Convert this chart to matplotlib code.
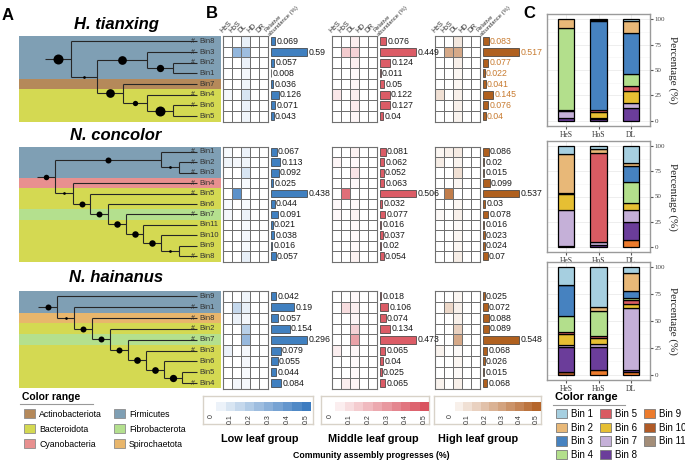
import numpy as np
import matplotlib
matplotlib.use("Agg")
import matplotlib.pyplot as plt
from matplotlib.colors import LinearSegmentedColormap
from matplotlib.patches import Patch
from matplotlib.lines import Line2D

W, H = 685, 467
plt.rcParams['font.family'] = ['Liberation Sans', 'DejaVu Sans']
SERIF = ['Liberation Serif', 'DejaVu Serif']

# ---------------- data ----------------
heat_cols = ["HeS", "HoS", "DL", "HD", "DR"]
groups = ["Low leaf group", "Middle leaf group", "High leaf group"]
hosts = ["H. tianxing", "N. concolor", "N. hainanus"]
stack_cols = ["HeS", "HoS", "DL"]

phylum_colors = {
    "Actinobacteriota": "#b5895a",
    "Bacteroidota": "#d4d952",
    "Cyanobacteria": "#e8908f",
    "Firmicutes": "#7f9fb4",
    "Fibrobacterota": "#b4e08e",
    "Spirochaetota": "#e8b66c",
}
bin_names = ["Bin 1", "Bin 2", "Bin 3", "Bin 4", "Bin 5", "Bin 6",
             "Bin 7", "Bin 8", "Bin 9", "Bin 10", "Bin 11"]
bin_colors = ["#a6cfe0", "#e8b878", "#4682c0", "#b3df8c", "#d95b62", "#e6bf33",
              "#c5b0d8", "#6b3d9a", "#ec7b2c", "#b05a26", "#a38d78"]

# H. tianxing
tianxing_bins = ["Bin8", "Bin3", "Bin2", "Bin1", "Bin7", "Bin4", "Bin6", "Bin5"]
tianxing_phyla = ["Firmicutes"] * 4 + ["Actinobacteriota"] + ["Bacteroidota"] * 3
tianxing_marked = [1, 1, 1, 0, 0, 1, 1, 0]
# node = (depth, support dot size px, children)
tianxing_tree = (71, 10, ["Bin8",
                          (97, 2.7, [(147, 8.7, ["Bin3", (173, 7.3, ["Bin2", "Bin1"])]),
                                     (123, 8.7, ["Bin7", (147, 5.3, ["Bin4", (173, 10, ["Bin6", "Bin5"])])])])])
tianxing_root = 45
tianxing_low = [0.069, 0.59, 0.057, 0.008, 0.036, 0.126, 0.071, 0.043]
tianxing_mid = [0.076, 0.449, 0.124, 0.011, 0.05, 0.122, 0.127, 0.04]
tianxing_high = [0.083, 0.517, 0.077, 0.022, 0.041, 0.145, 0.076, 0.04]
tianxing_heat_low = [[0, 0, 0.06, 0, 0], [0, 0.28, 0.25, 0, 0], [0, 0, 0.05, 0, 0], [0, 0, 0.03, 0, 0],
                     [0, 0, 0.04, 0, 0], [0.03, 0, 0.10, 0, 0], [0, 0, 0.05, 0, 0], [0, 0, 0.04, 0, 0]]
tianxing_heat_mid = [[0, 0, 0.05, 0, 0], [0, 0.15, 0.13, 0, 0], [0, 0, 0.05, 0, 0], [0, 0, 0.02, 0, 0],
                     [0, 0, 0.03, 0, 0], [0.07, 0, 0.05, 0, 0], [0, 0, 0.06, 0, 0], [0, 0, 0.03, 0, 0]]
tianxing_heat_high = [[0, 0, 0.08, 0, 0], [0, 0.28, 0.28, 0, 0], [0, 0, 0.05, 0, 0], [0, 0, 0.03, 0, 0],
                      [0, 0, 0.03, 0, 0], [0.1, 0, 0.05, 0, 0], [0, 0, 0.05, 0, 0], [0, 0, 0.04, 0, 0]]
# stacked percentages per Bin 1..11 for HeS, HoS, DL
tianxing_stack = [[0, 0.5, 2.3], [9, 1, 11.7], [0, 87.5, 40.3], [80, 0, 11.4], [0, 2.5, 5],
                  [1, 6, 11.6], [7, 1, 5], [3, 1.5, 12.7], [0, 0, 0], [0, 0, 0], [0, 0, 0]]

# N. concolor
concolor_bins = ["Bin1", "Bin2", "Bin3", "Bin4", "Bin5", "Bin6", "Bin7", "Bin11", "Bin10", "Bin9", "Bin8"]
concolor_phyla = ["Firmicutes"] * 3 + ["Cyanobacteria"] + ["Bacteroidota"] * 2 + ["Fibrobacterota"] + ["Bacteroidota"] * 4
concolor_marked = [1, 1, 1, 1, 1, 0, 1, 0, 0, 0, 1]
concolor_tree = (55, 5.5, [(161, 6, ["Bin1", (179, 2.7, ["Bin2", "Bin3"])]),
                           (73, 2.7, ["Bin4", (90, 6, ["Bin5", (108, 6, ["Bin6", (126, 6.5, ["Bin7",
                            (143, 6.5, ["Bin11", (161, 6.5, ["Bin10", (179, 2.7, ["Bin9", "Bin8"])])])])])])])])
concolor_root = 37
concolor_low = [0.067, 0.113, 0.092, 0.025, 0.438, 0.044, 0.091, 0.021, 0.038, 0.016, 0.057]
concolor_mid = [0.081, 0.062, 0.052, 0.063, 0.506, 0.032, 0.077, 0.016, 0.037, 0.02, 0.054]
concolor_high = [0.086, 0.02, 0.015, 0.099, 0.537, 0.03, 0.078, 0.016, 0.023, 0.024, 0.07]
concolor_heat_low = [[0.02, 0, 0.05, 0, 0], [0.04, 0.03, 0.04, 0, 0], [0, 0, 0.1, 0, 0], [0, 0, 0.02, 0, 0],
                     [0, 0.42, 0, 0, 0], [0.02, 0, 0.02, 0, 0], [0.03, 0, 0.05, 0, 0], [0, 0, 0.02, 0, 0],
                     [0, 0, 0.03, 0, 0], [0, 0, 0.02, 0, 0], [0, 0, 0.06, 0, 0]]
concolor_heat_mid = [[0, 0, 0.04, 0, 0], [0.03, 0, 0.02, 0, 0], [0, 0, 0.08, 0, 0], [0, 0, 0.02, 0, 0],
                     [0, 0.42, 0, 0, 0], [0.02, 0, 0.02, 0, 0], [0.02, 0, 0.04, 0, 0], [0, 0, 0.02, 0, 0],
                     [0, 0, 0.02, 0, 0], [0, 0, 0.02, 0, 0], [0, 0, 0.04, 0, 0]]
concolor_heat_high = [[0.03, 0.05, 0.07, 0, 0], [0.06, 0, 0.04, 0, 0], [0, 0, 0.1, 0, 0], [0, 0, 0.03, 0, 0],
                      [0, 0.42, 0, 0, 0], [0, 0, 0.03, 0, 0], [0.02, 0, 0.05, 0, 0], [0, 0, 0.02, 0, 0],
                      [0, 0, 0.03, 0, 0], [0, 0, 0.03, 0, 0], [0, 0, 0.06, 0, 0]]
concolor_stack = [[8, 3, 16.5], [39, 4, 3.5], [1, 0, 16], [0, 0, 20], [0, 88, 0], [15, 0, 7],
                  [36, 3, 12], [1, 2, 18.5], [0, 0, 6.5], [0, 0, 0], [0, 0, 0]]

# N. hainanus
hainanus_bins = ["Bin9", "Bin1", "Bin8", "Bin2", "Bin7", "Bin3", "Bin6", "Bin5", "Bin4"]
hainanus_phyla = ["Firmicutes"] * 2 + ["Spirochaetota", "Bacteroidota", "Fibrobacterota"] + ["Bacteroidota"] * 4
hainanus_marked = [0, 1, 1, 1, 1, 1, 0, 0, 1]
hainanus_tree = (57, 6, ["Bin9", (74, 2.7, ["Bin1", (92, 6, ["Bin8", (110, 6, ["Bin2", (128, 6, ["Bin7",
                 (146, 6.7, ["Bin3", (164, 6.7, ["Bin6", (182, 7.3, ["Bin5", "Bin4"])])])])])])])])
hainanus_root = 38
hainanus_low = [0.042, 0.19, 0.057, 0.154, 0.296, 0.079, 0.055, 0.044, 0.084]
hainanus_mid = [0.018, 0.106, 0.074, 0.134, 0.473, 0.065, 0.04, 0.025, 0.065]
hainanus_high = [0.025, 0.072, 0.088, 0.089, 0.548, 0.068, 0.026, 0.015, 0.068]
hainanus_heat_low = [[0, 0, 0.04, 0, 0], [0, 0.15, 0.06, 0, 0], [0, 0.05, 0.03, 0, 0], [0, 0, 0.18, 0, 0],
                     [0, 0, 0.27, 0, 0], [0.05, 0, 0.03, 0, 0], [0, 0, 0.03, 0, 0], [0, 0, 0.02, 0, 0],
                     [0, 0.03, 0.03, 0, 0]]
hainanus_heat_mid = [[0, 0, 0.02, 0, 0], [0, 0.1, 0.05, 0, 0], [0, 0, 0.03, 0, 0], [0, 0, 0.13, 0, 0],
                     [0, 0, 0.27, 0, 0], [0.05, 0, 0.03, 0, 0], [0, 0, 0.02, 0, 0], [0, 0, 0.02, 0, 0],
                     [0, 0.05, 0.03, 0, 0]]
hainanus_heat_high = [[0, 0, 0.03, 0, 0], [0, 0.13, 0.05, 0, 0], [0, 0, 0.05, 0, 0], [0, 0, 0.15, 0, 0],
                      [0, 0, 0.28, 0, 0], [0.04, 0, 0.02, 0, 0], [0, 0, 0.03, 0, 0], [0, 0, 0.02, 0, 0],
                      [0.04, 0, 0.05, 0, 0]]
hainanus_stack = [[16, 37.3, 5], [0.5, 3.4, 16.7], [28.5, 0, 6.6], [15.5, 23.3, 2.4], [1.5, 2, 3.3],
                  [10, 5.7, 4.3], [2.5, 2.3, 57.7], [23.5, 22, 1.3], [0, 4, 2.7], [2, 0, 0], [0, 0, 0]]

cbar_ticks = [0, 0.1, 0.2, 0.3, 0.4, 0.5]

# ---------------- styling ----------------
group_colors = ["#3d7cc0", "#d9535f", "#b5652a"]
bar_colors = ["#4080c0", "#dc5c66", "#b0601e"]
cmaps = [LinearSegmentedColormap.from_list("g%d" % i, ["#ffffff", c]) for i, c in enumerate(group_colors)]

fig = plt.figure(figsize=(W / 100, H / 100), dpi=100)


def px_axes(x0, y0, x1, y1):
    return fig.add_axes([x0 / W, 1 - y1 / H, (x1 - x0) / W, (y1 - y0) / H])


def ftext(x, y, s, **kw):
    fig.text(x / W, 1 - y / H, s, **kw)


TIP_X = 197


def layout(node, parent_x, leaf_y, lines, dots):
    if isinstance(node, str):
        y = leaf_y[node]
        lines.append(([parent_x, TIP_X], [y, y]))
        return y
    x, size, children = node
    ys = [layout(c, x, leaf_y, lines, dots) for c in children]
    y = (ys[0] + ys[-1]) / 2
    lines.append(([x, x], [ys[0], ys[-1]]))
    lines.append(([parent_x, x], [y, y]))
    dots.append(((parent_x + x) / 2, y, size))
    return y


blocks = [
    (tianxing_bins, tianxing_phyla, tianxing_marked, tianxing_tree, tianxing_root,
     [tianxing_low, tianxing_mid, tianxing_high],
     [tianxing_heat_low, tianxing_heat_mid, tianxing_heat_high], tianxing_stack),
    (concolor_bins, concolor_phyla, concolor_marked, concolor_tree, concolor_root,
     [concolor_low, concolor_mid, concolor_high],
     [concolor_heat_low, concolor_heat_mid, concolor_heat_high], concolor_stack),
    (hainanus_bins, hainanus_phyla, hainanus_marked, hainanus_tree, hainanus_root,
     [hainanus_low, hainanus_mid, hainanus_high],
     [hainanus_heat_low, hainanus_heat_mid, hainanus_heat_high], hainanus_stack),
]

row_spans = [(36, 121.5), (146.5, 261.5), (291, 388.5)]
title_y = [25, 135, 277]
heat_x0 = [223, 332, 435]
room = [61, 55, 60]          # px available right of each bar baseline
c_spans = [(14, 126), (141, 252), (262, 380)]

for k, (bins, phyla, marked, tree, root_x, abunds, heats, stack) in enumerate(blocks):
    top, bot = row_spans[k]
    n = len(bins)
    rows = np.arange(n)

    # ---- tree with coloured phylum bands ----
    tax = px_axes(19, top, 221, bot)
    tax.set_xlim(19, 221)
    tax.set_ylim(n - 0.5, -0.5)
    tax.axis('off')
    tax.barh(rows, 202, left=19, height=1.0, color=[phylum_colors[p] for p in phyla], lw=0)
    lines, dots = [], []
    layout(tree, root_x, {b: i for i, b in enumerate(bins)}, lines, dots)
    for xs, ys in lines:
        tax.plot(xs, ys, color="#262626", lw=0.8, solid_capstyle='butt')
    for x, y, s in dots:
        tax.plot(x, y, 'o', color='black', ms=s * 0.72, mew=0)
    for i, (b, m) in enumerate(zip(bins, marked)):
        if m:
            tax.text(193, i, "#", fontsize=5, ha='center', va='center', color='#262626')
        tax.text(199, i, b, fontsize=5.5, ha='left', va='center', color='#333333')
    ftext(116, title_y[k], hosts[k], fontsize=12, fontweight='bold', fontstyle='italic',
          ha='center', va='center')

    # ---- heatmaps and abundance bars ----
    for g in range(3):
        hx = heat_x0[g]
        hax = px_axes(hx, top, hx + 45, bot)
        hax.pcolormesh(np.arange(6), np.arange(n + 1), np.array(heats[g]), cmap=cmaps[g],
                       vmin=0, vmax=0.5, edgecolors='#707070', linewidth=0.6)
        hax.set_xlim(0, 5)
        hax.set_ylim(n, 0)
        hax.set_xticks([])
        hax.set_yticks([])
        for sp in hax.spines.values():
            sp.set_color('#707070')
            sp.set_linewidth(0.8)
        if k == 0:
            for j, c in enumerate(heat_cols):
                hax.text(j + 0.05, -0.12, c, fontsize=5, rotation=45, ha='left', va='bottom',
                         rotation_mode='anchor', color='#333333')

        vals = abunds[g]
        vmax = max(vals)
        xmax = vmax * 58 / 36
        bax = px_axes(hx + 48, top, hx + 106, bot)
        bax.set_zorder(5)
        bax.barh(rows, vals, height=0.75, color=bar_colors[g], edgecolor='#333333', lw=0.5)
        bax.set_xlim(0, xmax)
        bax.set_ylim(n - 0.5, -0.5)
        bax.axis('off')
        tcol = '#c87b30' if (k == 0 and g == 2) else '#1a1a1a'
        for i, v in enumerate(vals):
            s = f"{v:g}"
            end_px = v / xmax * 58 + 1.5 + 3.5 * len(s)
            fs = 6.3 if end_px <= room[g] + 1 else 4.8
            bax.text(v + xmax * 1.2 / 58, i, s, fontsize=fs, ha='left', va='center',
                     color=tcol, clip_on=False)
        if k == 0:
            bax.text(0.0, -0.45, "Relative\nabundance (%)", fontsize=4.2, rotation=45,
                     ha='left', va='bottom', rotation_mode='anchor', color='#333333', linespacing=1.0)

    # ---- stacked composition ----
    ct, cb = c_spans[k]
    cax = px_axes(547, ct, 650, cb)
    xpos = np.arange(1, 4)
    bottom = np.zeros(3)
    for b in reversed(range(len(bin_names))):
        hgt = np.array(stack[b], dtype=float)
        mask = hgt > 0
        if mask.any():
            cax.bar(xpos[mask], hgt[mask], bottom=bottom[mask], width=0.5, color=bin_colors[b],
                    edgecolor='black', lw=0.9, zorder=3)
        bottom += hgt
    cax.set_xlim(0.4, 3.6)
    cax.set_ylim(-5, 105)
    cax.set_yticks([0, 25, 50, 75, 100])
    cax.set_yticks([12.5, 37.5, 62.5, 87.5], minor=True)
    cax.set_xticks(xpos)
    cax.set_xticklabels(stack_cols, fontsize=5.5, family=SERIF, color='#333333')
    cax.yaxis.tick_right()
    cax.yaxis.set_label_position('right')
    cax.tick_params(axis='y', which='major', labelsize=5, length=2, pad=1.5, color='#555555',
                    labelcolor='#444444')
    cax.tick_params(axis='y', which='minor', length=0)
    cax.tick_params(axis='x', length=2, pad=1.5, color='#555555')
    for lab in cax.get_yticklabels():
        lab.set_family(SERIF)
    cax.grid(True, which='major', color='#ebebeb', lw=0.6, zorder=0)
    cax.grid(True, which='minor', axis='y', color='#f4f4f4', lw=0.4, zorder=0)
    cax.set_axisbelow(True)
    for sp in cax.spines.values():
        sp.set_color('#9a9a9a')
        sp.set_linewidth(1.0)
    cax.set_ylabel("Percentage (%)", fontsize=8, family=SERIF, rotation=270, labelpad=9, color='#222222')

# ---- colour bars for heatmaps ----
cbar_boxes = [(203, 313, 207, 311), (321, 429, 326, 429), (434, 541, 446, 541)]
levels = np.linspace(0, 0.5, 11)
for (bx0, bx1, sx0, sx1), cmap in zip(cbar_boxes, cmaps):
    boxax = px_axes(bx0, 396, bx1, 424)
    boxax.set_xticks([])
    boxax.set_yticks([])
    boxax.patch.set_alpha(0)
    for sp in boxax.spines.values():
        sp.set_color('#d8d2c8')
        sp.set_linewidth(1.0)
    sax = px_axes(sx0, 402, sx1, 411)
    edges = np.append(levels - 0.025, levels[-1] + 0.025)
    sax.pcolormesh(edges, [0, 1], levels[None, :], cmap=cmap, vmin=0, vmax=0.5)
    sax.set_xlim(edges[0], edges[-1])
    sax.set_xticks(cbar_ticks)
    sax.set_xticklabels([f"{t:g}" for t in cbar_ticks], rotation=90, fontsize=5, color='#333333')
    sax.tick_params(length=0, pad=2)
    sax.set_yticks([])
    for sp in sax.spines.values():
        sp.set_visible(False)

for gx, gname in zip([260, 373, 478], groups):
    ftext(gx, 439, gname, fontsize=7.8, fontweight='bold', ha='center', va='center')
ftext(371, 455, "Community assembly progresses (%)", fontsize=6.3, fontweight='bold',
      ha='center', va='center')

# ---- panel letters ----
ftext(8, 15, "A", fontsize=12, fontweight='bold', ha='center', va='center')
ftext(212, 14, "B", fontsize=12, fontweight='bold', ha='center', va='center')
ftext(529, 13, "C", fontsize=12, fontweight='bold', ha='center', va='center')

# ---- legend: phyla ----
ftext(22, 397, "Color range", fontsize=7.5, fontweight='bold', ha='left', va='center')
fig.add_artist(Line2D([20 / W, 93 / W], [1 - 404 / H, 1 - 404 / H], color='#999999', lw=0.8))
phy_order = ["Actinobacteriota", "Bacteroidota", "Cyanobacteria", "Firmicutes", "Fibrobacterota", "Spirochaetota"]
fig.legend([Patch(facecolor=phylum_colors[p], edgecolor='#8c8c8c', lw=0.6) for p in phy_order], phy_order,
           loc='upper left', bbox_to_anchor=(24 / W, 1 - 409 / H), ncol=2, frameon=False,
           fontsize=6.3, handlelength=1.25, handleheight=1.25, handletextpad=0.5,
           labelspacing=0.62, columnspacing=1.3, borderpad=0, borderaxespad=0)

# ---- legend: bins ----
ftext(555, 397, "Color range", fontsize=8, fontweight='bold', ha='left', va='center')
fig.add_artist(Line2D([553 / W, 625 / W], [1 - 405 / H, 1 - 405 / H], color='#999999', lw=0.8))
fig.legend([Patch(facecolor=c, edgecolor='#7a7a7a', lw=0.6) for c in bin_colors], bin_names,
           loc='upper left', bbox_to_anchor=(556 / W, 1 - 409 / H), ncol=3, frameon=False,
           fontsize=7, handlelength=1.1, handleheight=1.1, handletextpad=0.45,
           labelspacing=0.38, columnspacing=0.7, borderpad=0, borderaxespad=0)

fig.savefig("out.png", dpi=100)
